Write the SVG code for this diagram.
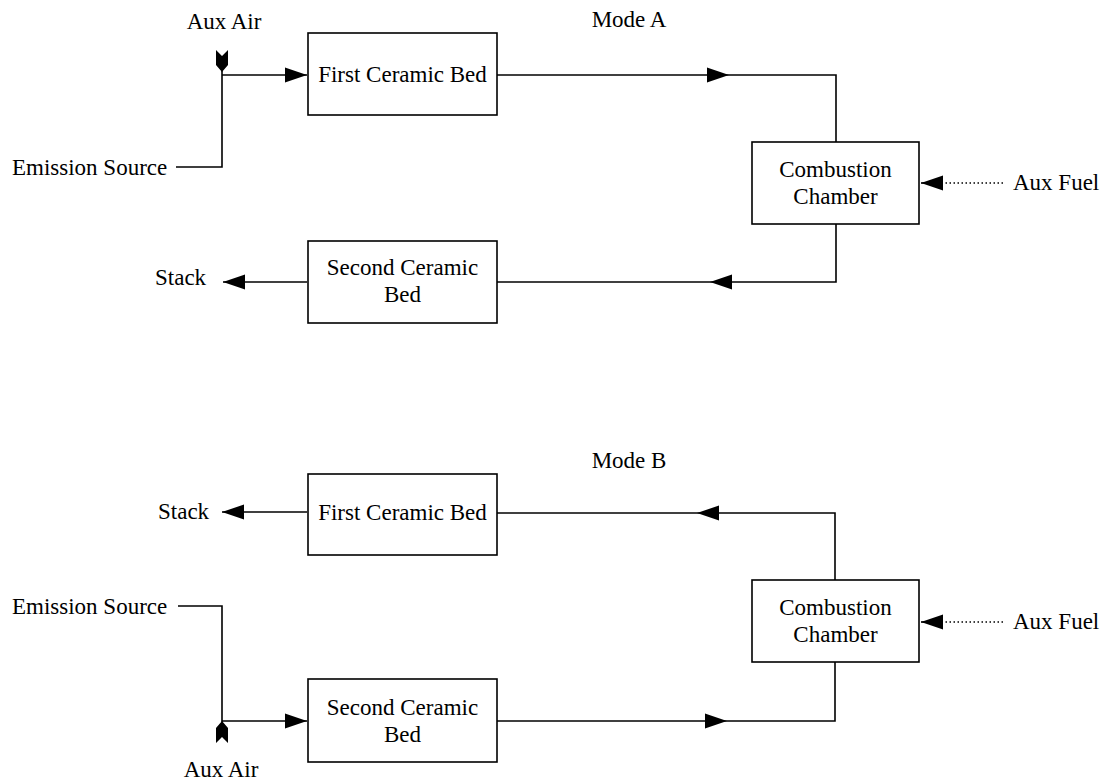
<svg xmlns="http://www.w3.org/2000/svg" width="1104" height="780" viewBox="0 0 1104 780">
<style>
text{font-family:"Liberation Serif","Times New Roman",serif;font-size:23px;fill:#000}
.c{text-anchor:middle}
.box{fill:#fff;stroke:#000;stroke-width:1.6}
.ln{fill:none;stroke:#000;stroke-width:1.6}
.dot{fill:none;stroke:#000;stroke-width:1.5;stroke-dasharray:1.5 2.5}
.air{fill:#000}
</style>
<defs>
<marker id="ah" markerUnits="userSpaceOnUse" markerWidth="23" markerHeight="17" refX="22" refY="8" orient="auto" viewBox="0 0 23 17">
<path d="M0,0.5 L22,8 L0,15.5 z" fill="#000"/>
</marker>
</defs>
<rect width="1104" height="780" fill="#fff"/>

<g id="labels">
<text class="c" x="629" y="27">Mode A</text>
<text class="c" x="629" y="468">Mode B</text>
</g>

<g id="connectors">
<!-- Mode A -->
<path class="ln" d="M176,167 L222,167 L222,71"/>
<path class="ln" d="M222,75 L307,75" marker-end="url(#ah)"/>
<path class="ln" d="M497,75 L729,75" marker-end="url(#ah)"/>
<path class="ln" d="M729,75 L836,75 L836,142"/>
<path class="ln" d="M836,224 L836,282 L710,282" marker-end="url(#ah)"/>
<path class="ln" d="M710,282 L497,282"/>
<path class="ln" d="M307,282 L223,282" marker-end="url(#ah)"/>
<path class="dot" d="M1003,183 L943,183"/>
<path class="ln" d="M943,183 L921,183" marker-end="url(#ah)"/>
<polygon class="air" points="216,50 222,56 228,50 228,65 222,72 216,65"/>
<!-- Mode B -->
<path class="ln" d="M307,512 L222,512" marker-end="url(#ah)"/>
<path class="ln" d="M835,580 L835,513 L697,513" marker-end="url(#ah)"/>
<path class="ln" d="M697,513 L497,513"/>
<path class="ln" d="M178,606 L222,606 L222,722"/>
<path class="ln" d="M222,721 L307,721" marker-end="url(#ah)"/>
<path class="ln" d="M497,721 L727,721" marker-end="url(#ah)"/>
<path class="ln" d="M727,721 L835,721 L835,662"/>
<path class="dot" d="M1003,622 L943,622"/>
<path class="ln" d="M943,622 L921,622" marker-end="url(#ah)"/>
<polygon class="air" points="216,743 222,737 228,743 228,728 222,721 216,728"/>
</g>

<g id="modeA-aux-air"><text class="c" x="224" y="29">Aux Air</text></g>
<g id="modeA-emission-source"><text x="12" y="175">Emission Source</text></g>
<g id="modeA-first-bed">
<rect class="box" x="308" y="33" width="189" height="82"/>
<text class="c" x="402.5" y="82">First Ceramic Bed</text>
</g>
<g id="modeA-combustion">
<rect class="box" x="752" y="142" width="167" height="82"/>
<text class="c" x="835.5" y="177">Combustion</text>
<text class="c" x="835.5" y="204">Chamber</text>
</g>
<g id="modeA-aux-fuel"><text x="1013" y="190">Aux Fuel</text></g>
<g id="modeA-second-bed">
<rect class="box" x="308" y="241" width="189" height="82"/>
<text class="c" x="402.5" y="275">Second Ceramic</text>
<text class="c" x="402.5" y="302">Bed</text>
</g>
<g id="modeA-stack"><text x="155" y="285">Stack</text></g>

<g id="modeB-stack"><text x="158" y="519">Stack</text></g>
<g id="modeB-first-bed">
<rect class="box" x="308" y="474" width="189" height="81"/>
<text class="c" x="402.5" y="520">First Ceramic Bed</text>
</g>
<g id="modeB-combustion">
<rect class="box" x="752" y="580" width="167" height="82"/>
<text class="c" x="835.5" y="615">Combustion</text>
<text class="c" x="835.5" y="642">Chamber</text>
</g>
<g id="modeB-aux-fuel"><text x="1013" y="629">Aux Fuel</text></g>
<g id="modeB-emission-source"><text x="12" y="614">Emission Source</text></g>
<g id="modeB-second-bed">
<rect class="box" x="308" y="679" width="189" height="83"/>
<text class="c" x="402.5" y="715">Second Ceramic</text>
<text class="c" x="402.5" y="742">Bed</text>
</g>
<g id="modeB-aux-air"><text class="c" x="221" y="777">Aux Air</text></g>
</svg>
